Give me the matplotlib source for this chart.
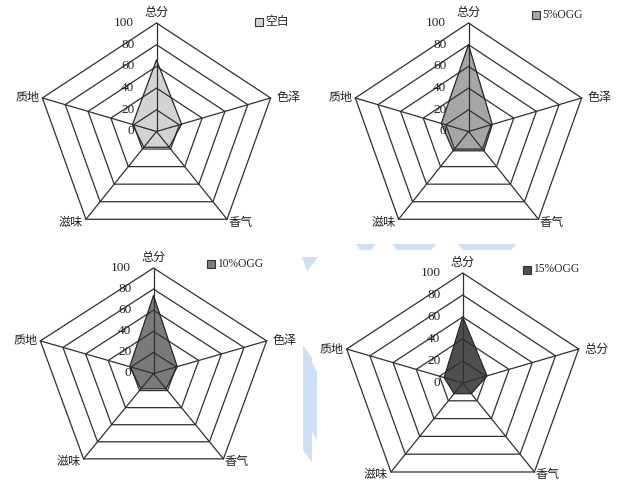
import numpy as np
import matplotlib
matplotlib.use("Agg")
import matplotlib.pyplot as plt
from matplotlib.patches import Polygon, Rectangle

# ---------------- data ----------------
categories_a = ["总分", "色泽", "香气", "滋味", "质地"]
categories_d = ["总分", "总分", "香气", "滋味", "质地"]   # label typo kept as in original
series_names = ["空白", "5%OGG", "10%OGG", "15%OGG"]
blank_vals = [66, 22, 18, 18, 21]
ogg5_vals = [80, 21, 22, 22, 24]
ogg10_vals = [74, 21, 18, 18, 21]
ogg15_vals = [60, 21, 12, 12, 16]
ring_levels = [0, 20, 40, 60, 80, 100]
ring_labels = ["0", "20", "40", "60", "80", "100"]
fill_colors = ["#d3d3d3", "#a6a6a6", "#7a7a7a", "#4f4f4f"]

# ---------------- layout (pixels) ----------------
W, H = 617, 486
panels = [
    dict(box=(0, 0, 310, 243), c=(156.5, 131.5), rx=120, ry=108.5, leg=(255, 22)),
    dict(box=(310, 0, 617, 243), c=(468.5, 131.5), rx=119, ry=108.5, leg=(532, 15.5)),
    dict(box=(0, 243, 310, 486), c=(153.5, 373.5), rx=119, ry=105.5, leg=(207, 264)),
    dict(box=(310, 243, 617, 486), c=(462.7, 383), rx=122, ry=110, leg=(523, 269.5)),
]
all_vals = [blank_vals, ogg5_vals, ogg10_vals, ogg15_vals]
all_cats = [categories_a, categories_a, categories_a, categories_d]

CJK = ["Noto Sans CJK SC", "DejaVu Sans"]
SERIF = ["Liberation Serif", "DejaVu Serif"]
GRID = "#303030"

fig = plt.figure(figsize=(W / 100, H / 100), dpi=100)
fig.patch.set_facecolor("white")

# faint watermark fragments (background)
wm = "#d0e0f4"
bg = fig.add_axes([0, 0, 1, 1], zorder=0)
bg.set_xlim(0, W)
bg.set_ylim(H, 0)
bg.axis("off")
for pts in [
    [(302, 257), (318, 257), (307, 272)],
    [(303, 345), (312, 358), (312, 462), (303, 450)],
    [(312, 362), (317, 372), (317, 440), (312, 432)],
    [(356, 244), (376, 244), (371, 250), (360, 250)],
    [(392, 244), (436, 244), (431, 250), (397, 250)],
    [(458, 244), (516, 244), (511, 250), (463, 250)],
]:
    bg.add_patch(Polygon(pts, closed=True, facecolor=wm, edgecolor="none"))

angles = np.deg2rad([90, 18, -54, -126, 162])

for i, p in enumerate(panels):
    x0, y0, x1, y1 = p["box"]
    cx, cy = p["c"]
    sx, sy = p["rx"] / 100.0, p["ry"] / 100.0
    ax = fig.add_axes([x0 / W, 1 - y1 / H, (x1 - x0) / W, (y1 - y0) / H], zorder=1)
    ax.set_xlim((x0 - cx) / sx, (x1 - cx) / sx)
    ax.set_ylim((cy - y1) / sy, (cy - y0) / sy)
    ax.set_aspect("auto")
    ax.axis("off")
    ax.patch.set_alpha(0)

    ca, sa = np.cos(angles), np.sin(angles)
    vals = np.array(all_vals[i], dtype=float)

    # data fill
    dx, dy = vals * ca, vals * sa
    ax.add_patch(Polygon(np.column_stack([dx, dy]), closed=True,
                         facecolor=fill_colors[i], edgecolor="none", zorder=1))

    # grid rings and spokes
    for lv in ring_levels[1:]:
        ax.add_patch(Polygon(np.column_stack([lv * ca, lv * sa]), closed=True,
                             facecolor="none", edgecolor=GRID, lw=0.9, zorder=2,
                             clip_on=False))
    for a_c, a_s in zip(ca, sa):
        ax.plot([0, 100 * a_c], [0, 100 * a_s], color=GRID, lw=0.9, zorder=2,
                clip_on=False)

    # data outline
    ax.add_patch(Polygon(np.column_stack([dx, dy]), closed=True,
                         facecolor="none", edgecolor="#262626", lw=0.9, zorder=3))

    # ring value labels
    for lv, lab in zip(ring_levels, ring_labels):
        ax.annotate(lab, (0, lv), xytext=(-16, 0), textcoords="offset points",
                    ha="right", va="center", fontsize=9.5, family=SERIF,
                    color="#222222", zorder=4)

    # category labels
    cats = all_cats[i]
    offs = [((0, 3), "center", "bottom"),
            ((4, 0), "left", "center"),
            ((1, -2), "left", "center"),
            ((-2, -2), "right", "center"),
            ((-2, 0), "right", "center")]
    for k, (lab, (off, ha, va)) in enumerate(zip(cats, offs)):
        ax.annotate(lab, (100 * ca[k], 100 * sa[k]), xytext=off,
                    textcoords="offset points", ha=ha, va=va, fontsize=8.7,
                    family=CJK, color="#222222", zorder=4)

    # legend (square + text)
    lx, ly = p["leg"]
    fig.add_artist(Rectangle((lx / W, 1 - (ly + 4) / H), 8 / W, 8 / H,
                             transform=fig.transFigure, facecolor=fill_colors[i],
                             edgecolor="#333333", lw=0.8))
    name = series_names[i]
    fam = CJK if i == 0 else SERIF
    fs = 8.5 if i == 0 else 8.3
    fig.text((lx + 10) / W, 1 - ly / H, name, ha="left", va="center",
             fontsize=fs, family=fam, color="#222222")

fig.savefig("out.png", dpi=100)
